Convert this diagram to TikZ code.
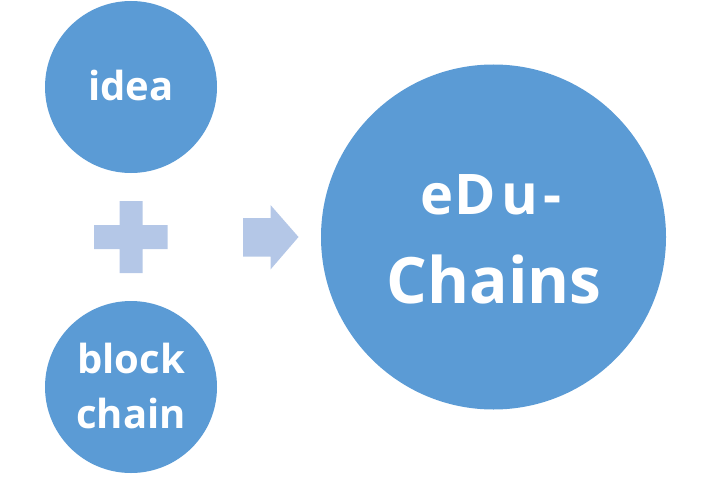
\documentclass[tikz,border=0pt]{standalone}
\usepackage{fontspec}
\setmainfont{Open Sans}
\definecolor{cblue}{HTML}{5B9BD5}
\definecolor{lblue}{HTML}{B4C7E7}
\begin{document}
\begin{tikzpicture}[x=1pt,y=-1pt,
  bubble/.style={circle,fill=cblue,draw=none,inner sep=0pt},
  btext/.style={text=white,inner sep=0pt,anchor=base,font=\bfseries},
  sign/.style={fill=lblue,draw=none}]
\useasboundingbox (0,0) rectangle (711,476);
% circles
\node[bubble,minimum size=172] (idea) at (131,87) {};
\node[bubble,minimum size=172] (block) at (131,387) {};
\node[bubble,minimum size=345] (edu) at (493.5,237) {};
% texts
\node[btext] (ideaT) at (131,100) {\fontsize{40}{48}\selectfont idea};
\node[btext] (blockT) at (131,373) {\fontsize{40}{48}\selectfont block};
\node[btext] (chainT) at (131,428) {\fontsize{40}{48}\selectfont chain};
\node[btext] (eduT) at (491,214) {\fontsize{56}{62}\selectfont e\kern1pt D\kern5pt u\kern5pt -};
\node[btext] (chainsT) at (494,303) {\fontsize{64}{72}\selectfont Chains};
% plus sign
\coordinate (plus) at (131,237);
\fill[sign] (119.5,201) -- (142.5,201) -- (142.5,225) -- (167.5,225) -- (167.5,249)
  -- (142.5,249) -- (142.5,273) -- (119.5,273) -- (119.5,249) -- (94,249)
  -- (94,225) -- (119.5,225) -- cycle;
% arrow
\coordinate (arr) at (270,237);
\fill[sign] (243,218) -- (270.5,218) -- (270.5,205) -- (298.5,237) -- (270.5,269.5)
  -- (270.5,256.5) -- (243,256.5) -- cycle;
\end{tikzpicture}
\end{document}
